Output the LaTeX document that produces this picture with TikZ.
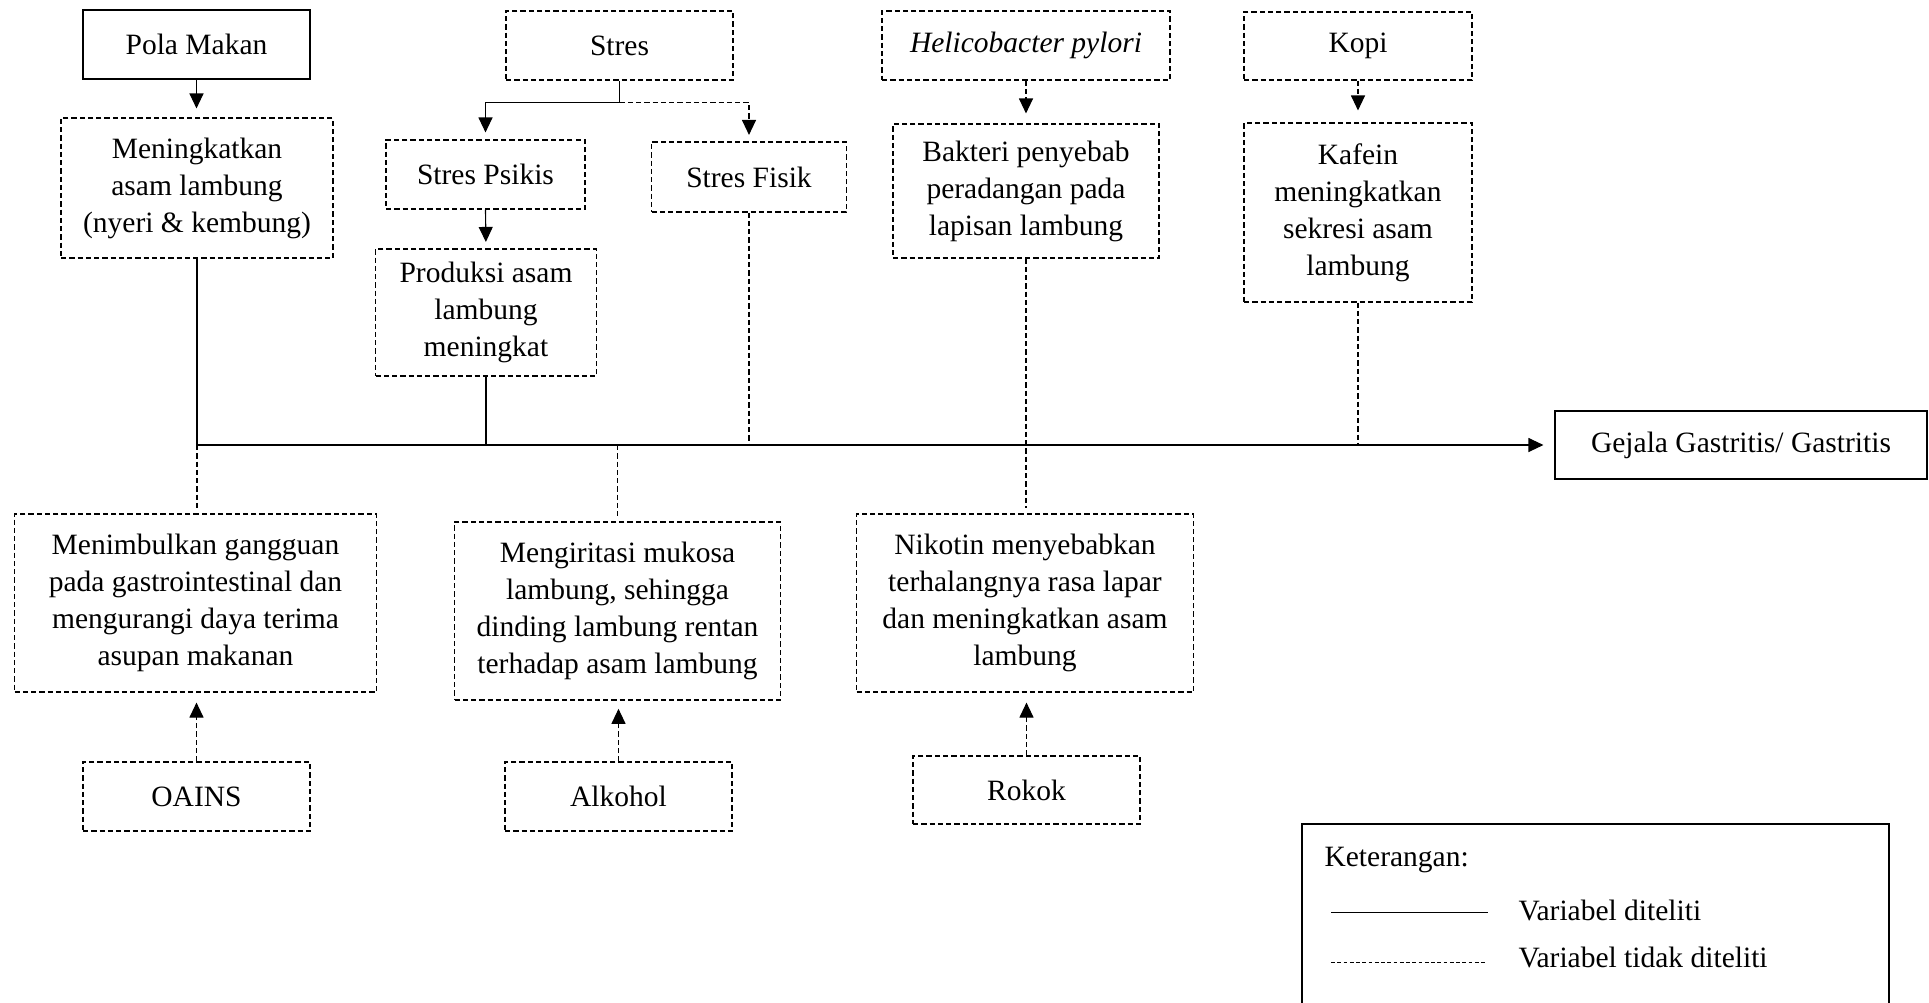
\documentclass[tikz,border=0pt]{standalone}
\usepackage{fontspec}
\setmainfont{Liberation Serif}
\usepackage{tikz}
\usetikzlibrary{arrows.meta,positioning,calc}

\begin{document}
\begin{tikzpicture}[x=0.4pt,y=-0.4pt,
        font=\fontsize{11.8pt}{14.8pt}\selectfont,
        >={Triangle[length=6pt,width=5.6pt]},
        line width=0.45pt,
        dashed/.style={dash pattern=on 2.1pt off 1.2pt},
        solidbox/.style={draw,align=center,inner sep=2pt},
        dashbox/.style={draw,dashed,align=center,inner sep=2pt}]
        \useasboundingbox (0,0) rectangle (1929,1002);

        \node[solidbox,minimum width=227*0.4pt,minimum height=69*0.4pt] (pola) at (196.5,44.5) {Pola Makan};
        \node[dashbox,minimum width=272*0.4pt,minimum height=140*0.4pt] (meningkat) at (197,188) {Meningkatkan\\asam lambung\\(nyeri \& kembung)};
        \node[dashbox,minimum width=227*0.4pt,minimum height=69*0.4pt] (stres) at (619.5,45.5) {Stres};
        \node[dashbox,minimum width=199*0.4pt,minimum height=69*0.4pt] (psikis) at (485.5,174.5) {Stres Psikis};
        \node[dashbox,minimum width=195*0.4pt,minimum height=70*0.4pt] (fisik) at (749,177) {Stres Fisik};
        \node[dashbox,minimum width=221*0.4pt,minimum height=127*0.4pt] (produksi) at (486,312.5) {Produksi asam\\lambung\\meningkat};
        \node[dashbox,minimum width=288*0.4pt,minimum height=69*0.4pt] (helico) at (1026,45.5) {\textit{Helicobacter pylori}};
        \node[dashbox,minimum width=266*0.4pt,minimum height=134*0.4pt] (bakteri) at (1026,191) {Bakteri penyebab\\peradangan pada\\lapisan lambung};
        \node[dashbox,minimum width=228*0.4pt,minimum height=68*0.4pt] (kopi) at (1358,46) {Kopi};
        \node[dashbox,minimum width=228*0.4pt,minimum height=179*0.4pt] (kafein) at (1358,212.5) {Kafein\\meningkatkan\\sekresi asam\\lambung};
        \node[solidbox,minimum width=372*0.4pt,minimum height=68*0.4pt] (gejala) at (1741,445) {Gejala Gastritis/ Gastritis};

        \node[dashbox,minimum width=362*0.4pt,minimum height=178*0.4pt] (menimbul) at (195.5,603) {Menimbulkan gangguan\\pada gastrointestinal dan\\mengurangi daya terima\\asupan makanan};
        \node[dashbox,minimum width=326*0.4pt,minimum height=178*0.4pt] (iritasi) at (617.5,611) {Mengiritasi mukosa\\lambung, sehingga\\dinding lambung rentan\\terhadap asam lambung};
        \node[dashbox,minimum width=337*0.4pt,minimum height=178*0.4pt] (nikotin) at (1025,603) {Nikotin menyebabkan\\terhalangnya rasa lapar\\dan meningkatkan asam\\lambung};
        \node[dashbox,minimum width=227*0.4pt,minimum height=69*0.4pt] (oains) at (196.5,796.5) {OAINS};
        \node[dashbox,minimum width=227*0.4pt,minimum height=69*0.4pt] (alkohol) at (618.5,796.5) {Alkohol};
        \node[dashbox,minimum width=227*0.4pt,minimum height=68*0.4pt] (rokok) at (1026.5,790) {Rokok};

        \coordinate (stresfork) at (619.5,102.7);
        \coordinate (busL) at (meningkat.south |- gejala.west);

        \draw[->,shorten >=3.6pt] (pola.south) -- (pola.south |- meningkat.north);
        \draw[->,shorten >=2.8pt] (stres.south) -- (stresfork) -| (psikis.north);
        \draw[->,dashed,shorten >=2.6pt] (stresfork) -| (fisik.north);
        \draw[->,shorten >=2.6pt] (psikis.south) -- (produksi.north);
        \draw[->,dashed,shorten >=4pt] (helico.south) -- (bakteri.north);
        \draw[->,dashed,shorten >=4.8pt] (kopi.south) -- (kafein.north);

        \draw[->,shorten >=4.4pt] (meningkat.south) -- (busL) -- (gejala.west);
        \draw (produksi.south) -- (produksi.south |- busL);
        \draw[dashed] (fisik.south) -- (fisik.south |- busL);
        \draw[dashed,shorten >=2pt] (bakteri.south) -- (bakteri.south |- nikotin.north);
        \draw[dashed] (kafein.south) -- (kafein.south |- busL);
        \draw[dashed,shorten >=2pt] (busL) -- (busL |- menimbul.north);
        \draw[dashed,shorten >=1.6pt] (iritasi.north |- busL) -- (iritasi.north);

        \draw[->,dashed,shorten >=4pt] (oains.north) -- (oains.north |- menimbul.south);
        \draw[->,dashed,shorten >=3.3pt] (alkohol.north) -- (alkohol.north |- iritasi.south);
        \draw[->,dashed,shorten >=4pt] (rokok.north) -- (rokok.north |- nikotin.south);

        % keterangan
        \draw[line width=1pt] (1302,1012) |- (1889,824) -- (1889,1012);
        \node[anchor=base west,inner sep=0pt] (ket) at (1324,866) {Keterangan:};
        \node[anchor=base west,inner sep=0pt] (lgsolid) at (1518,920) {Variabel diteliti};
        \node[anchor=base west,inner sep=0pt] (lgdash) at (1518,967) {Variabel tidak diteliti};
        \draw (1331,912.5) -- (1488,912.5);
        \draw[line width=0.4pt,dash pattern=on 1.5pt off 1pt] (1331,962) -- (1486,962);
    \end{tikzpicture}
\end{document}
